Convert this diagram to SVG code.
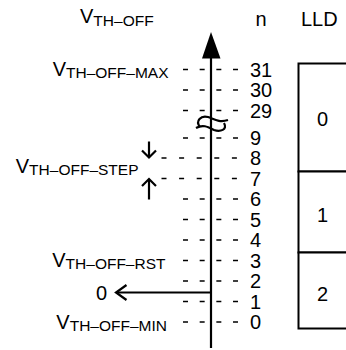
<svg xmlns="http://www.w3.org/2000/svg" width="346" height="350" viewBox="0 0 346 350">
<style>
text{font-family:"Liberation Sans",Arial,Helvetica,sans-serif;font-size:20px;fill:#000}
.sub{font-size:15.5px}
.dash{stroke:#000;stroke-width:1.3;stroke-dasharray:5 11.67;fill:none}
.dash2{stroke:#000;stroke-width:1.3;stroke-dasharray:5 12.6;fill:none}
.ln{stroke:#000;stroke-width:2.2;fill:none}
.box{stroke:#000;stroke-width:2;fill:#fff}
</style>
<rect width="346" height="350" fill="#fff"/>
<g id="headers">
<text x="80" y="23">V<tspan class="sub" dy="3">TH–OFF</tspan></text>
<text x="255.5" y="26">n</text>
<text x="301" y="26">LLD</text>
</g>
<g id="connectors">
<g id="ticks">
<line class="dash" x1="183" y1="69.5" x2="238" y2="69.5"/>
<line class="dash" x1="183" y1="90" x2="238" y2="90"/>
<line class="dash" x1="183" y1="110.5" x2="238" y2="110.5"/>
<line class="dash" x1="183" y1="138" x2="238" y2="138"/>
<line class="dash2" x1="161.5" y1="158" x2="237" y2="158"/>
<line class="dash2" x1="161.5" y1="178.5" x2="237" y2="178.5"/>
<line class="dash" x1="183" y1="199" x2="238" y2="199"/>
<line class="dash" x1="183" y1="219.5" x2="238" y2="219.5"/>
<line class="dash" x1="183" y1="240" x2="238" y2="240"/>
<line class="dash" x1="183" y1="260.5" x2="238" y2="260.5"/>
<line class="dash" x1="183" y1="281" x2="238" y2="281"/>
<line class="dash" x1="183" y1="301.5" x2="238" y2="301.5"/>
<line class="dash" x1="183" y1="322" x2="238" y2="322"/>
</g>
<g id="axis">
<line class="ln" x1="211" y1="56" x2="211" y2="348"/>
<polygon points="211,32 202,58.5 220.5,58.5" fill="#000"/>
<path class="ln" d="M200,127 C195,121 201,115 208,117 C214,119 219,123 228,120"/>
<path class="ln" d="M196,128 C203,124 208,127 214,130 C220,132 228,130 224,123"/>
</g>
<g id="zero-arrow">
<line class="ln" x1="211" y1="292.5" x2="117" y2="292.5"/>
<polyline class="ln" points="126.5,285 116,292.5 126.5,300"/>
</g>
<g id="step-arrows">
<line class="ln" x1="149" y1="141.5" x2="149" y2="157"/>
<polyline class="ln" points="142,150.5 149,157.5 156,150.5"/>
<line class="ln" x1="149" y1="199.5" x2="149" y2="180"/>
<polyline class="ln" points="142,186 149,179 156,186"/>
</g>
</g>
<g id="numbers">
<text x="250" y="76.5">31</text>
<text x="250" y="97">30</text>
<text x="250" y="117.5">29</text>
<text x="250" y="145">9</text>
<text x="250" y="165">8</text>
<text x="250" y="185.5">7</text>
<text x="250" y="206">6</text>
<text x="250" y="226.5">5</text>
<text x="250" y="247">4</text>
<text x="250" y="267.5">3</text>
<text x="250" y="288">2</text>
<text x="250" y="308.5">1</text>
<text x="250" y="329">0</text>
</g>
<g id="label-max"><text x="168.5" y="76" text-anchor="end">V<tspan class="sub" dy="2">TH–OFF–MAX</tspan></text></g>
<g id="label-step"><text x="138.5" y="173.3" text-anchor="end">V<tspan class="sub" dy="2">TH–OFF–STEP</tspan></text></g>
<g id="label-rst"><text x="165.5" y="267" text-anchor="end">V<tspan class="sub" dy="2">TH–OFF–RST</tspan></text></g>
<g id="label-min"><text x="167" y="328.5" text-anchor="end">V<tspan class="sub" dy="2">TH–OFF–MIN</tspan></text></g>
<g id="label-zero"><text x="96" y="299.5">0</text></g>
<g id="lld-0"><rect class="box" x="298.5" y="63.5" width="60" height="108"/><text x="322.5" y="125.5" text-anchor="middle">0</text></g>
<g id="lld-1"><rect class="box" x="298.5" y="171.5" width="60" height="81"/><text x="322.5" y="222" text-anchor="middle">1</text></g>
<g id="lld-2"><rect class="box" x="298.5" y="252.5" width="60" height="76"/><text x="322.5" y="300.5" text-anchor="middle">2</text></g>
</svg>
